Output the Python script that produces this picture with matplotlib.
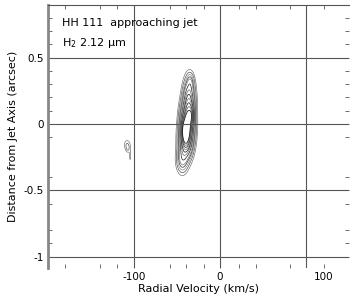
import numpy as np
import matplotlib
matplotlib.use("Agg")
import matplotlib.pyplot as plt

# emission components (velocity km/s, offset arcsec, widths, peak)
comp_v = [-38.0, -36.0, -40.0, -44.0, -34.5, -33.0, -42.0, -108.0, -107.0, -104.5]
comp_y = [0.0, 0.19, -0.13, -0.27, 0.32, 0.07, -0.05, -0.155, -0.19, -0.245]
comp_sv = [4.5, 4.0, 4.5, 4.0, 2.5, 2.0, 2.0, 2.6, 2.0, 0.8]
comp_sy = [0.10, 0.09, 0.08, 0.06, 0.04, 0.05, 0.05, 0.025, 0.02, 0.03]
comp_amp = [1.0, 0.45, 0.55, 0.2, 0.1, 0.3, 0.3, 0.06, 0.05, 0.04]

levels = [0.03, 0.06, 0.1, 0.15, 0.2, 0.3, 0.4, 0.5, 0.6, 0.7, 0.8, 0.9]
level_colors = ["#777777", "#555555", "#888888", "#333333", "#777777", "#222222",
                "#666666", "#111111", "#777777", "#222222", "#555555", "#000000"]

xgrid = [-100, 0, 100]
ygrid = [0.5, 0, -0.5, -1]
xtick_pos = [-100, 0, 121]
xtick_lab = ["-100", "0", "100"]
xminor = [-180, -140, -120, -58, -40, -19, 22, 42, 81]
ytick_pos = [0.5, 0, -0.5, -1]
ytick_lab = ["0.5", "0", "-0.5", "-1"]
yminor = [0.8, 0.7, 0.6, 0.4, 0.3, 0.2, 0.1, -0.1, -0.4, -0.6, -0.8, -0.9]

fig = plt.figure(figsize=(3.54, 3.0), dpi=100)
ax = fig.add_axes([48/354, 32/300, 301/354, 263/300])

vv, yy = np.meshgrid(np.linspace(-200, 150, 900), np.linspace(-1.1, 0.9, 700))
field = np.zeros_like(vv)
for v0, y0, sv, sy, a in zip(comp_v, comp_y, comp_sv, comp_sy, comp_amp):
    field += a*np.exp(-0.5*((vv-v0)/sv)**2 - 0.5*((yy-y0)/sy)**2)

ax.contour(vv, yy, field, levels=levels, colors=level_colors, linewidths=0.5)

for xg in xgrid:
    ax.axvline(xg, color="#555555", lw=0.8)
for yg in ygrid:
    ax.axhline(yg, color="#555555", lw=0.8)

ax.set_xlim(-200, 150)
ax.set_ylim(-1.085, 0.896)

ax.set_xticks(xtick_pos)
ax.set_xticklabels(xtick_lab)
ax.set_xticks(xminor, minor=True)
ax.set_yticks(ytick_pos)
ax.set_yticklabels(ytick_lab)
ax.set_yticks(yminor, minor=True)
ax.tick_params(axis="both", which="both", direction="in", length=3, width=0.6,
               color="#555555", top=True, right=True, labelsize=7.5, pad=3)

ax.spines["left"].set_linewidth(2)
ax.spines["left"].set_color("#888888")
ax.spines["top"].set_linewidth(0.8)
ax.spines["top"].set_color("#555555")
ax.spines["right"].set_visible(False)
ax.spines["bottom"].set_visible(False)

ax.set_xlabel("Radial Velocity (km/s)", fontsize=8, labelpad=1)
ax.set_ylabel("Distance from Jet Axis (arcsec)", fontsize=8, labelpad=4)

ax.text(0.047, 0.93, "HH 111  approaching jet", transform=ax.transAxes,
        fontsize=8, va="center", ha="left")
ax.text(0.047, 0.855, "H$_2$ 2.12 \u03bcm", transform=ax.transAxes,
        fontsize=8, va="center", ha="left")

fig.savefig("out.png", dpi=100)
